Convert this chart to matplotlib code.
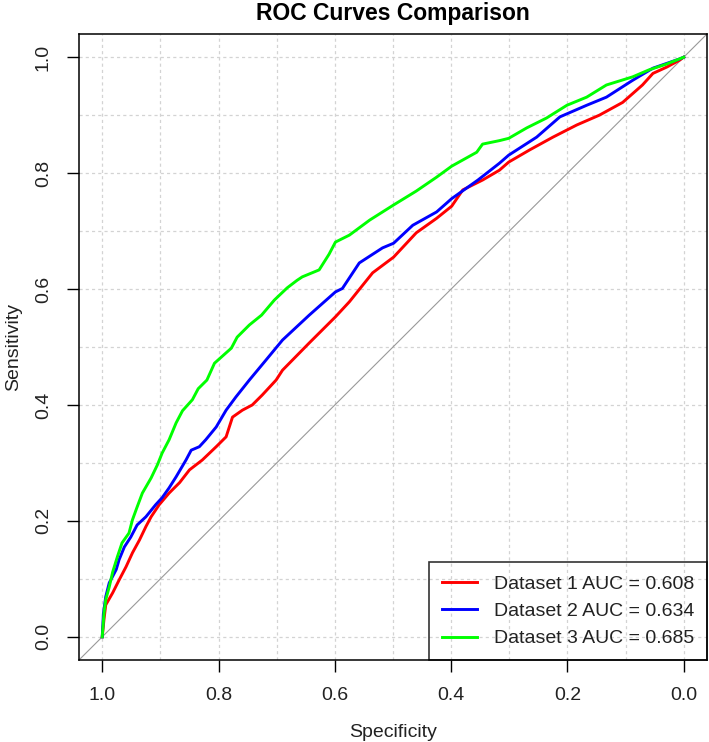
import matplotlib
matplotlib.use("Agg")
import matplotlib.pyplot as plt

plt.rcParams['font.family'] = ['Liberation Sans', 'DejaVu Sans']

# specificity / sensitivity
spec1 = [1.0, 0.997, 0.994, 0.982, 0.971, 0.959, 0.948, 0.936, 0.925, 0.916,
         0.902, 0.885, 0.867, 0.850, 0.828, 0.804, 0.787, 0.776, 0.759, 0.742,
         0.725, 0.701, 0.690, 0.644, 0.599, 0.575, 0.535, 0.499, 0.460, 0.425,
         0.399, 0.380, 0.346, 0.317, 0.301, 0.265, 0.225, 0.184, 0.145, 0.105,
         0.071, 0.053, 0.029, 0.007, 0.0]
sens1 = [0.0, 0.030, 0.055, 0.076, 0.098, 0.121, 0.145, 0.167, 0.190, 0.207,
         0.228, 0.248, 0.266, 0.288, 0.305, 0.328, 0.345, 0.379, 0.391, 0.400,
         0.417, 0.443, 0.460, 0.507, 0.552, 0.578, 0.628, 0.655, 0.697, 0.722,
         0.743, 0.771, 0.788, 0.805, 0.819, 0.840, 0.862, 0.883, 0.900, 0.922,
         0.952, 0.972, 0.983, 0.995, 1.0]

spec2 = [1.0, 0.998, 0.994, 0.988, 0.976, 0.971, 0.962, 0.951, 0.940, 0.925,
         0.908, 0.897, 0.885, 0.873, 0.856, 0.847, 0.833, 0.822, 0.804, 0.787,
         0.770, 0.747, 0.718, 0.690, 0.644, 0.599, 0.587, 0.558, 0.518, 0.499,
         0.466, 0.425, 0.399, 0.354, 0.317, 0.301, 0.253, 0.213, 0.167, 0.133,
         0.088, 0.053, 0.007, 0.0]
sens2 = [0.0, 0.040, 0.069, 0.093, 0.116, 0.133, 0.155, 0.172, 0.193, 0.207,
         0.228, 0.240, 0.257, 0.276, 0.305, 0.322, 0.328, 0.340, 0.362, 0.391,
         0.414, 0.443, 0.478, 0.512, 0.555, 0.595, 0.601, 0.645, 0.671, 0.679,
         0.710, 0.733, 0.756, 0.788, 0.817, 0.831, 0.862, 0.897, 0.917, 0.931,
         0.960, 0.981, 0.997, 1.0]

spec3 = [1.0, 0.997, 0.994, 0.988, 0.982, 0.974, 0.966, 0.954, 0.948, 0.940,
         0.931, 0.916, 0.905, 0.897, 0.885, 0.873, 0.862, 0.845, 0.835, 0.820,
         0.807, 0.778, 0.768, 0.747, 0.726, 0.704, 0.682, 0.665, 0.656, 0.627,
         0.610, 0.599, 0.575, 0.540, 0.499, 0.460, 0.425, 0.399, 0.356, 0.346,
         0.317, 0.301, 0.270, 0.236, 0.201, 0.167, 0.133, 0.088, 0.060, 0.030, 0.0]
sens3 = [0.0, 0.041, 0.064, 0.086, 0.112, 0.138, 0.162, 0.179, 0.202, 0.224,
         0.248, 0.274, 0.297, 0.317, 0.340, 0.369, 0.390, 0.409, 0.428, 0.443,
         0.472, 0.498, 0.517, 0.538, 0.555, 0.581, 0.602, 0.615, 0.621, 0.633,
         0.660, 0.681, 0.693, 0.719, 0.745, 0.769, 0.793, 0.812, 0.836, 0.850,
         0.856, 0.860, 0.878, 0.895, 0.917, 0.931, 0.952, 0.966, 0.978, 0.988, 1.0]

labels = ['Dataset 1 AUC = 0.608', 'Dataset 2 AUC = 0.634', 'Dataset 3 AUC = 0.685']
colors = ['#FF0000', '#0000FF', '#00FF00']
ticks = [1.0, 0.8, 0.6, 0.4, 0.2, 0.0]

fig = plt.figure(figsize=(7.09, 7.42), dpi=100)
ax = fig.add_axes([0.1114, 0.1105, 0.8858, 0.8437])

grid = [i / 10 for i in range(11)]
for g in grid:
    ax.axvline(g, color='#d3d3d3', lw=0.9, ls=(0, (2.5, 2.5)), zorder=0)
    ax.axhline(g, color='#d3d3d3', lw=0.9, ls=(0, (2.5, 2.5)), zorder=0)

ax.axline((1, 0), (0, 1), color='#999999', lw=0.8, zorder=1)

for xs, ys, c, lab in zip([spec1, spec2, spec3], [sens1, sens2, sens3], colors, labels):
    ax.plot(xs, ys, color=c, lw=2.1, label=lab, zorder=2)

ax.set_xlim(1.04, -0.04)
ax.set_ylim(-0.04, 1.04)
ax.set_xticks(ticks)
ax.set_xticklabels(['%.1f' % t for t in ticks])
ax.set_yticks(ticks)
ax.set_yticklabels(['%.1f' % t for t in ticks], rotation=90, va='center')
ax.tick_params(direction='out', length=8.5, width=1, labelsize=14, pad=11,
               colors='black', labelcolor='#222222')
for s in ax.spines.values():
    s.set_linewidth(1.1)

ax.set_xlabel('Specificity', fontsize=14, labelpad=14, color='#222222')
ax.set_ylabel('Sensitivity', fontsize=14, labelpad=9, color='#222222')
ax.set_title('ROC Curves Comparison', fontsize=16.5, fontweight='bold', pad=10)

leg = ax.legend(loc='lower right', fontsize=14, frameon=True, fancybox=False,
                borderaxespad=0, borderpad=0.65, handlelength=1.85,
                handletextpad=0.85, labelspacing=0.5)
leg.get_frame().set_edgecolor('black')
leg.get_frame().set_facecolor('none')
leg.get_frame().set_linewidth(1.2)
for t in leg.get_texts():
    t.set_color('#222222')

fig.savefig('out.png', dpi=100)
